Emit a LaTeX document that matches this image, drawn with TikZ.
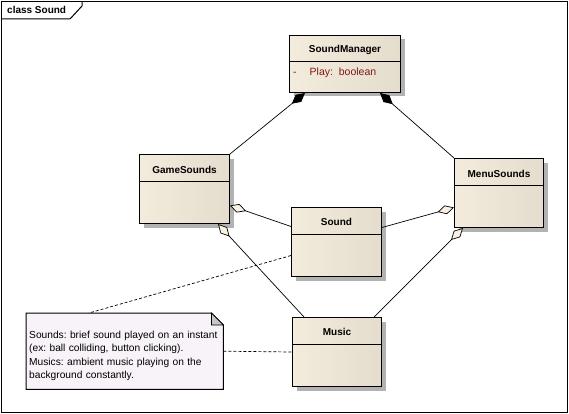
\documentclass[tikz,border=0pt]{standalone}
\usepackage{fontspec}
\setmainfont{Liberation Sans}
\usetikzlibrary{arrows.meta,shadows,backgrounds,positioning}

\definecolor{clsleft}{RGB}{243,235,220}
\definecolor{clsmid}{RGB}{251,243,228}
\definecolor{clsright}{RGB}{228,220,204}
\definecolor{notefill}{RGB}{248,243,248}
\definecolor{attrred}{RGB}{128,24,24}
\definecolor{openfill}{RGB}{248,241,226}

\tikzset{
  umlclass/.style={draw=black, line width=1pt, anchor=north west, inner sep=0pt,
                   left color=clsleft, middle color=clsmid, right color=clsright,
                   drop shadow={shadow xshift=4pt, shadow yshift=-4pt, fill=black!30, opacity=1}},
  clsname/.style={font=\fontsize{10}{12}\selectfont\bfseries, inner sep=0pt},
  attr/.style={font=\fontsize{10.5}{12}\selectfont, text=attrred, inner sep=0pt, anchor=west},
  notetext/.style={font=\fontsize{10.2}{13.3}\selectfont\frenchspacing, align=left, anchor=north west,
                   minimum width=197pt, minimum height=76pt, text width=191pt, inner xsep=3pt, inner ysep=4pt},
  compose/.style={line width=0.7pt, {Diamond[length=17pt,width=9pt,fill=black]}-},
  aggr/.style={line width=0.7pt, {Diamond[length=17pt,width=9pt,fill=openfill]}-},
  notelink/.style={line width=0.7pt, dash pattern=on 3pt off 2pt}
}

\begin{document}
\begin{tikzpicture}[x=1pt, y=-1pt, >=stealth]
\useasboundingbox (0,0) rectangle (569,414);

% frame
\draw[line width=1pt] (1.5,1.5) rectangle (567.5,412.5);
\draw[line width=1pt] (1.5,19) -- (70,19) -- (82,6) -- (82,1.5);
\node[clsname, anchor=west] (frametitle) at (7,10) {class Sound};

% classes
\node[umlclass, minimum width=111pt, minimum height=57pt] (sm) at (289,35) {};
\node[umlclass, minimum width=90pt, minimum height=69pt] (gs) at (139,154) {};
\node[umlclass, minimum width=89pt, minimum height=69pt] (ms) at (454,158) {};
\node[umlclass, minimum width=90pt, minimum height=69pt] (snd) at (291,207) {};
\node[umlclass, minimum width=89pt, minimum height=69pt] (mus) at (292,317) {};

\foreach \c in {sm,gs,ms,snd,mus}
  \draw[line width=1pt] ([yshift=-27pt]\c.north west) -- ([yshift=-27pt]\c.north east);

\node[clsname] (smname) at ([yshift=-15pt]sm.north) {SoundManager};
\node[clsname] (gsname) at ([yshift=-15.5pt]gs.north) {GameSounds};
\node[clsname] (msname) at ([yshift=-15.5pt]ms.north) {MenuSounds};
\node[clsname] (sndname) at ([yshift=-15pt]snd.north) {Sound};
\node[clsname] (musname) at ([yshift=-14.5pt]mus.north) {Music};
\node[attr] (smplay) at ([xshift=4pt,yshift=-38pt]sm.north west) {-\hspace{13pt}Play:\ \ boolean};

% note
\node[notetext] (note) at (26,313) {\rule{0pt}{17pt}Sounds: brief sound played on an instant\\(ex: ball colliding, button clicking).\\Musics: ambient music playing on the\\background constantly.};
\begin{scope}[on background layer]
\draw[line width=1pt, fill=notefill] (note.south west) -- (note.north west) -- ([xshift=-12pt]note.north east)
  -- ([yshift=-12pt]note.north east) -- (note.south east) -- cycle;
\draw[line width=0.7pt, fill=black!22] ([xshift=-12pt]note.north east) -- ([xshift=-12pt,yshift=-12pt]note.north east)
  -- ([yshift=-12pt]note.north east) -- cycle;
\end{scope}

% connectors
\draw[compose] ([xshift=16pt]sm.south west) -- (gs.north east);
\draw[compose] ([xshift=-21pt]sm.south east) -- (ms.north west);
\draw[aggr] ([yshift=-16.5pt]gs.east) -- ([yshift=15.5pt]snd.west);
\draw[aggr] ([xshift=-12pt]gs.south east) -- ([xshift=12pt]mus.north west);
\draw[aggr] ([yshift=-14.5pt]ms.west) -- ([yshift=14.5pt]snd.east);
\draw[aggr] ([xshift=9pt]ms.south west) -- ([xshift=-8pt]mus.north east);
\draw[notelink] ([yshift=-13.5pt]snd.west) -- ([xshift=63pt]note.north west);
\draw[notelink] (note.east) -- (mus.west);
\end{tikzpicture}
\end{document}
